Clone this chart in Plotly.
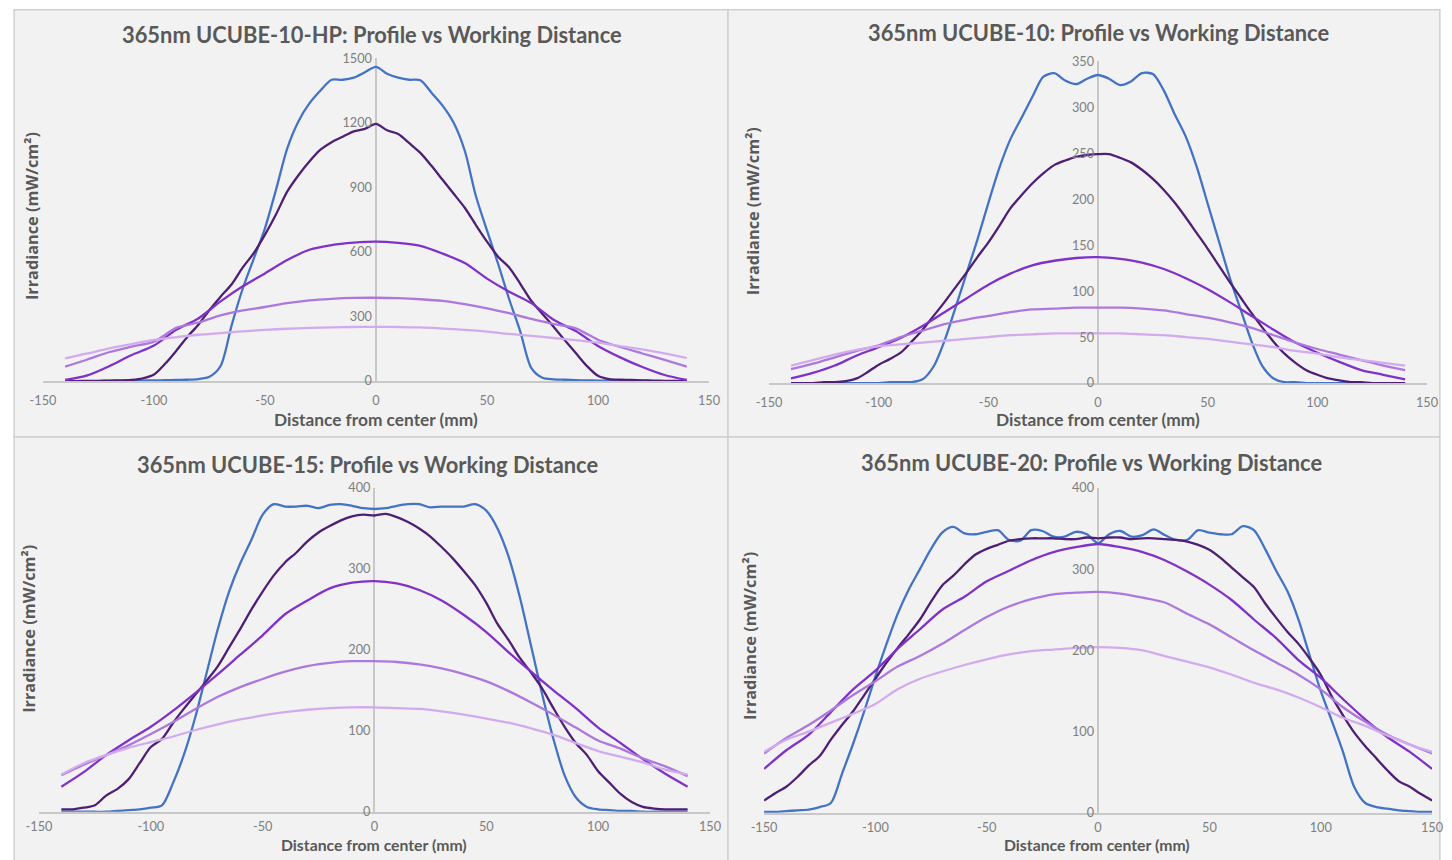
import plotly.graph_objects as go

# ---------------- data ----------------
X5_140 = list(range(-140, 141, 5))
X10_140 = list(range(-140, 141, 10))
X5_150 = list(range(-150, 151, 5))
X10_150 = list(range(-150, 151, 10))

titles = [
    "365nm UCUBE-10-HP: Profile vs Working Distance",
    "365nm UCUBE-10: Profile vs Working Distance",
    "365nm UCUBE-15: Profile vs Working Distance",
    "365nm UCUBE-20: Profile vs Working Distance",
]
x_title = "Distance from center (mm)"
y_title = "Irradiance (mW/cm²)"
series_names = ["Distance 1", "Distance 2", "Distance 3", "Distance 4", "Distance 5"]
x_ticks = [-150, -100, -50, 0, 50, 100, 150]

# Panel 1: UCUBE-10-HP
p1_blue = [0, 0, 0, 0, 1, 1, 2, 2, 3, 4, 5, 6, 9, 20, 70, 260, 430, 570, 710, 890, 1080, 1205, 1290, 1350, 1400, 1400, 1410, 1435, 1460,
           1428, 1410, 1400, 1398, 1340, 1280, 1200, 1070, 860, 700, 545, 380, 230, 60, 15, 8, 6, 4, 3, 2, 2, 1, 1, 1, 0, 0, 0, 0]
p1_dark = [0, 0, 1, 1, 2, 3, 5, 12, 30, 80, 140, 205, 262, 330, 392, 450, 528, 595, 680, 775, 880, 955, 1020, 1075, 1110, 1135, 1160, 1172, 1195,
           1165, 1148, 1105, 1060, 1000, 935, 870, 805, 725, 648, 578, 528, 452, 372, 312, 252, 190, 130, 70, 24, 9, 6, 5, 3, 2, 1, 1, 0]
p1_mid = [5, 26, 70, 121, 165, 238, 291, 370, 440, 500, 562, 610, 632, 643, 648, 642, 628, 592, 548, 476, 415, 362, 285, 232, 163, 110, 65, 28, 5]
p1_light = [67, 100, 135, 160, 183, 247, 272, 305, 328, 344, 362, 375, 382, 386, 387, 385, 380, 372, 357, 338, 315, 289, 265, 245, 192, 158, 128, 98, 67]
p1_pale = [105, 128, 152, 172, 191, 204, 215, 223, 231, 238, 243, 247, 249, 251, 252, 251, 249, 244, 238, 230, 219, 210, 200, 190, 178, 162, 147, 128, 107]

# Panel 2: UCUBE-10
p2_blue = [0, 0, 0, 0, 0, 0, 0, 0, 0, 1, 1, 1, 4, 18, 46, 82, 119, 156, 196, 234, 265, 288, 311, 333, 337, 329, 325, 331, 335,
           331, 324, 328, 337, 336, 318, 292, 268, 235, 195, 155, 115, 80, 45, 18, 5, 1, 1, 0, 0, 0, 0, 0, 0, 0, 0, 0, 0]
p2_dark = [0, 0, 0, 1, 1, 2, 5, 12, 20, 26, 33, 45, 58, 73, 88, 104, 120, 137, 153, 171, 190, 204, 217, 228, 237, 242, 246, 248, 249,
           249, 245, 240, 232, 222, 210, 196, 180, 163, 146, 128, 110, 93, 76, 60, 45, 32, 22, 14, 9, 5, 3, 1, 1, 0, 0, 0, 0]
p2_mid = [5, 11, 19, 30, 39, 49, 62, 77, 92, 107, 119, 128, 133, 136, 137, 135, 131, 124, 114, 102, 88, 73, 58, 44, 33, 23, 14, 9, 4]
p2_light = [15, 21, 28, 35, 41, 50, 57, 64, 69, 73, 77, 80, 81, 82, 82, 82, 81, 79, 75, 71, 66, 60, 52, 44, 37, 31, 25, 19, 14]
p2_pale = [19, 25, 31, 36, 40, 42, 44, 46, 48, 50, 52, 53, 54, 54, 54, 54, 53, 52, 50, 48, 45, 42, 39, 35, 32, 28, 25, 22, 19]

# Panel 3: UCUBE-15
p3_blue = [0, 0, 0, 0, 0, 1, 2, 3, 5, 8, 36, 72, 118, 172, 226, 272, 307, 336, 367, 380, 377, 377, 378, 375, 379, 380, 378, 375, 374,
           375, 378, 380, 380, 376, 377, 377, 377, 380, 372, 350, 315, 265, 205, 145, 90, 45, 18, 6, 3, 2, 1, 1, 0, 0, 0, 0, 0]
p3_dark = [3, 3, 5, 8, 20, 28, 40, 60, 80, 90, 110, 128, 145, 162, 180, 203, 226, 250, 272, 292, 308, 320, 334, 345, 353, 360, 365, 367, 366,
           368, 364, 358, 350, 340, 327, 313, 297, 280, 258, 232, 212, 190, 172, 152, 128, 105, 85, 70, 50, 36, 22, 12, 6, 4, 3, 3, 3]
p3_mid = [31, 49, 70, 88, 105, 125, 147, 170, 194, 218, 244, 261, 276, 283, 285, 282, 274, 261, 243, 222, 197, 173, 150, 128, 104, 85, 65, 47, 31]
p3_light = [45, 58, 70, 82, 96, 111, 127, 142, 154, 164, 173, 180, 184, 186, 186, 185, 182, 177, 170, 161, 149, 135, 120, 104, 88, 78, 66, 56, 44]
p3_pale = [46, 60, 70, 79, 86, 93, 101, 108, 114, 119, 123, 126, 128, 129, 129, 128, 127, 124, 120, 115, 110, 103, 95, 85, 75, 68, 61, 52, 46]

# Panel 4: UCUBE-20
p4_blue = [1, 1, 2, 3, 4, 7, 12, 48, 85, 125, 168, 208, 245, 275, 300, 325, 345, 352, 344, 343, 346, 348, 336, 335, 348, 347, 340, 340, 346, 343, 332,
           343, 347, 340, 342, 349, 342, 336, 336, 348, 345, 343, 343, 353, 348, 325, 298, 273, 238, 194, 150, 113, 75, 32, 12, 7, 5, 3, 2, 1, 1]
p4_dark = [15, 24, 32, 44, 58, 70, 90, 108, 125, 145, 165, 185, 203, 220, 238, 260, 280, 292, 306, 318, 325, 330, 335, 337, 338, 338, 338, 337, 337, 339, 338,
           339, 339, 337, 338, 338, 337, 336, 334, 330, 324, 314, 302, 290, 278, 258, 240, 223, 208, 190, 170, 143, 120, 99, 82, 67, 52, 39, 32, 23, 15]
p4_mid = [54, 77, 96, 124, 152, 175, 202, 226, 250, 266, 285, 298, 311, 321, 327, 331, 327, 321, 311, 297, 281, 262, 238, 215, 188, 166, 140, 115, 93, 75, 54]
p4_light = [73, 92, 108, 126, 145, 162, 180, 193, 208, 225, 241, 254, 263, 269, 271, 272, 270, 265, 259, 245, 232, 216, 200, 185, 170, 152, 130, 112, 96, 84, 73]
p4_pale = [75, 90, 100, 111, 122, 134, 152, 165, 174, 182, 189, 195, 199, 201, 203, 204, 203, 200, 193, 186, 179, 170, 160, 152, 142, 130, 117, 107, 95, 84, 75]

panels = [
    dict(title=titles[0], yrange=[0, 1500], dtick=300,
         xs=[X5_140, X5_140, X10_140, X10_140, X10_140], ys=[p1_blue, p1_dark, p1_mid, p1_light, p1_pale]),
    dict(title=titles[1], yrange=[0, 350], dtick=50,
         xs=[X5_140, X5_140, X10_140, X10_140, X10_140], ys=[p2_blue, p2_dark, p2_mid, p2_light, p2_pale]),
    dict(title=titles[2], yrange=[0, 400], dtick=100,
         xs=[X5_140, X5_140, X10_140, X10_140, X10_140], ys=[p3_blue, p3_dark, p3_mid, p3_light, p3_pale]),
    dict(title=titles[3], yrange=[0, 400], dtick=100,
         xs=[X5_150, X5_150, X10_150, X10_150, X10_150], ys=[p4_blue, p4_dark, p4_mid, p4_light, p4_pale]),
]

# ---------------- styling / layout ----------------
W, H = 1452, 860
S = 0.982  # the photographed page comes out slightly shrunk about its centre; compensate
colors = ["#4472C4", "#4E1F74", "#8032C8", "#AD78DE", "#D2ABEE"]

# target pixel boxes (as seen in the reference picture)
frames = [(5, 6, 727, 436), (727, 6, 1448, 436), (5, 436, 727, 870), (727, 436, 1448, 870)]
plots = [(43, 57, 708, 380), (768, 60, 1425, 382), (39, 487, 709, 811), (763, 487, 1430, 812)]
title_pos = [(372, 33), (1097, 31), (367, 464), (1090, 462)]
xtitle_pos = [(376, 418), (1096, 418), (374, 844), (1095, 844)]
xtitle_size = [17, 17, 15.5, 15.5]
xtick_standoff = [7, 7, 2, 2]
ytitle_pos = [(32, 215), (752, 210), (29, 628), (749, 635)]


def px(x):
    v = (W / 2 + (x - W / 2) / S) / W
    return min(max(v, 0.0008), 0.9992)


def py(y):
    v = 1 - (H / 2 + (y - H / 2) / S) / H
    return min(max(v, -0.05), 0.9992)


fig = go.Figure()
layout = dict(
    width=W, height=H, autosize=False,
    margin=dict(l=0, r=0, t=0, b=0, pad=0),
    paper_bgcolor="white", plot_bgcolor="rgba(0,0,0,0)",
    showlegend=False,
    font=dict(family="Lato, Open Sans, sans-serif", color="#7f7f7f"),
    shapes=[], annotations=[],
)

grey = "#595959"
for i, p in enumerate(panels):
    n = i + 1
    xa = "x" if n == 1 else f"x{n}"
    ya = "y" if n == 1 else f"y{n}"
    for k in range(5):
        fig.add_trace(go.Scatter(
            x=p["xs"][k], y=p["ys"][k], name=series_names[k], mode="lines",
            line=dict(color=colors[k], width=2.25 / S, shape="spline", smoothing=0.8),
            xaxis=xa, yaxis=ya, hoverinfo="skip",
        ))
    x0, y0, x1, y1 = plots[i]
    xkey = "xaxis" if n == 1 else f"xaxis{n}"
    ykey = "yaxis" if n == 1 else f"yaxis{n}"
    layout[xkey] = dict(
        domain=[px(x0), px(x1)], range=[-150, 150], anchor=ya,
        tickvals=x_ticks, ticktext=[str(v) for v in x_ticks],
        showgrid=False, showline=True, linecolor="#c8c8c8", linewidth=1.5,
        zeroline=True, zerolinecolor="#c8c8c8", zerolinewidth=1.5,
        ticks="", ticklabelstandoff=xtick_standoff[i],
        tickfont=dict(size=12.5 / S, color="#7f7f7f"), fixedrange=True,
    )
    layout[ykey] = dict(
        domain=[py(y1), py(y0)], range=p["yrange"], dtick=p["dtick"],
        anchor="free", position=(px(x0) + px(x1)) / 2,
        showgrid=False, showline=False, zeroline=False, ticks="",
        ticklabelstandoff=4,
        tickfont=dict(size=12.5 / S, color="#7f7f7f"), fixedrange=True,
    )
    fx0, fy0, fx1, fy1 = frames[i]
    layout["shapes"].append(dict(
        type="rect", xref="paper", yref="paper", layer="below",
        x0=px(fx0), x1=px(fx1), y0=py(fy1), y1=py(fy0),
        fillcolor="#f2f2f2", line=dict(color="#d0d0d0", width=1.5),
    ))
    tx, ty = title_pos[i]
    layout["annotations"].append(dict(
        text=p["title"], x=px(tx), y=py(ty), xref="paper", yref="paper",
        showarrow=False, xanchor="center", yanchor="middle",
        font=dict(size=21.5 / S, color=grey, family="Lato", weight="bold"),
    ))
    ax, ay = xtitle_pos[i]
    layout["annotations"].append(dict(
        text=x_title, x=px(ax), y=py(ay), xref="paper", yref="paper",
        showarrow=False, xanchor="center", yanchor="middle",
        font=dict(size=xtitle_size[i] / S, color=grey, family="Lato", weight="bold"),
    ))
    bx, by = ytitle_pos[i]
    layout["annotations"].append(dict(
        text=y_title, x=px(bx), y=py(by), xref="paper", yref="paper",
        showarrow=False, xanchor="center", yanchor="middle", textangle=-90,
        font=dict(size=16 / S, color=grey, family="Open Sans", weight="bold"),
    ))

fig.update_layout(**layout)
fig.write_html(
    "out.html",
    config={"displayModeBar": False, "responsive": False},
    post_script="document.body.style.margin='0';document.body.style.padding='0';"
                "document.documentElement.style.overflow='hidden';document.body.style.overflow='hidden';",
)
